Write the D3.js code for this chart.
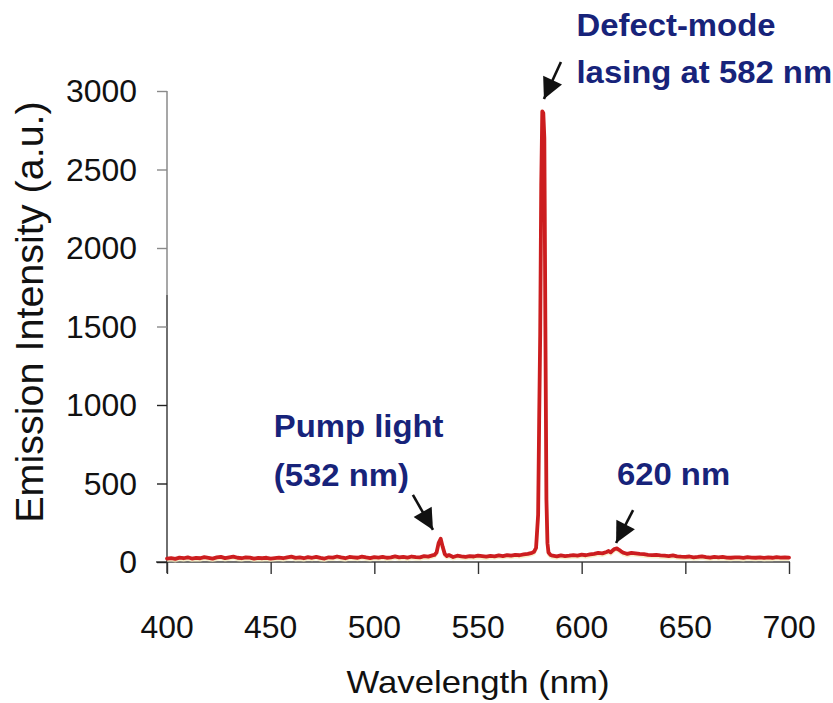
<!DOCTYPE html>
<html>
<head>
<meta charset="utf-8">
<script src="https://cdn.jsdelivr.net/npm/d3@7"></script>
<style>
  html, body { margin: 0; padding: 0; background: #fff; }
  svg { display: block; }
  text { font-family: "Liberation Sans", Arial, sans-serif; }
</style>
</head>
<body>
<svg id="chart" width="833" height="703"></svg>
<script>
// ---------------- data ----------------
const wavelength = [
  400,402,404,406,408,410,412,414,416,418,420,422,424,426,428,430,432,434,436,438,
  440,442,444,446,448,450,452,454,456,458,460,462,464,466,468,470,472,474,476,478,
  480,482,484,486,488,490,492,494,496,498,500,502,504,506,508,510,512,514,516,518,
  520,522,524,526,528,529,530,531,532,533,534,535,536,538,540,542,544,546,548,550,
  552,554,556,558,560,562,564,566,568,570,572,574,576,577,578,579,579.5,580,580.5,581,
  581.5,582,582.5,583,583.5,584,585,586,588,590,592,594,596,598,600,602,604,606,608,610,
  612,613,614,615,616,617,618,619,620,621,622,624,626,628,630,632,634,636,638,640,
  642,644,646,648,650,652,654,656,658,660,662,664,666,668,670,672,674,676,678,680,
  682,684,686,688,690,692,694,696,698,700
];
const intensity = [
  22,25,20,28,24,30,22,26,24,31,27,22,29,33,25,30,34,27,24,30,
  28,22,26,24,27,22,25,28,24,30,34,26,29,24,31,27,33,26,22,30,
  28,35,29,24,32,30,27,34,29,25,31,28,33,27,30,36,29,33,28,35,
  31,30,37,34,42,45,60,120,148,95,50,38,44,32,40,36,33,38,35,40,
  37,34,39,36,42,38,44,40,46,43,48,52,58,65,90,300,900,1450,2400,2870,
  2860,2700,1500,400,120,60,45,40,36,42,38,40,44,41,47,43,48,52,58,55,
  64,70,62,74,84,86,78,68,60,56,52,58,55,52,50,46,44,45,42,40,
  38,42,36,34,33,35,30,32,36,31,28,33,30,32,28,27,30,29,26,31,
  28,27,30,26,29,27,31,28,30,28
];
const xTicks = [400, 450, 500, 550, 600, 650, 700];
const yTicks = [0, 500, 1000, 1500, 2000, 2500, 3000];
const xTitle = "Wavelength (nm)";
const yTitle = "Emission Intensity (a.u.)";

// annotations in data units
const annoLines = [
  { text: "Pump light", x: 451.5, y: 798 },
  { text: "(532 nm)",   x: 451.5, y: 484 },
  { text: "Defect-mode", x: 597.5, y: 3350 },
  { text: "lasing at 582 nm", x: 597.5, y: 3050 },
  { text: "620 nm", x: 617, y: 490 }
];
const arrows = [
  { x1: 518.6, y1: 427, x2: 528.3, y2: 204 },
  { x1: 590.0, y1: 3185, x2: 581.8, y2: 2949 },
  { x1: 624.8, y1: 331, x2: 616.6, y2: 121 }
];

// ---------------- chart ----------------
const svg = d3.select("#chart");
const x = d3.scaleLinear().domain([400, 700]).range([167, 789]);
const y = d3.scaleLinear().domain([0, 3000]).range([562, 91]);
const navy = "#17237a";

// axes lines
const axisG = svg.append("g");
axisG.append("line").attr("x1", 156).attr("x2", x(700) + 1)
  .attr("y1", y(0)).attr("y2", y(0)).attr("stroke", "#444").attr("stroke-width", 1.3);
axisG.append("line").attr("x1", x(400)).attr("x2", x(400))
  .attr("y1", y(3000)).attr("y2", y(1700)).attr("stroke", "#8a8a8a").attr("stroke-width", 1.5);
axisG.append("line").attr("x1", x(400)).attr("x2", x(400))
  .attr("y1", y(1700)).attr("y2", y(0) + 11).attr("stroke", "#222").attr("stroke-width", 1.3);

// y ticks via d3 axis
const yAxis = svg.append("g").attr("transform", `translate(${x(400)},0)`)
  .call(d3.axisLeft(y).tickValues(yTicks).tickSize(10).tickSizeOuter(0).tickFormat(""));
yAxis.select(".domain").remove();
yAxis.selectAll(".tick line")
  .attr("stroke", d => d >= 1500 ? "#8a8a8a" : "#222").attr("stroke-width", 1.4);

// x ticks via d3 axis
const xAxis = svg.append("g").attr("transform", `translate(0,${y(0)})`)
  .call(d3.axisBottom(x).tickValues(xTicks).tickSize(12).tickSizeOuter(0).tickFormat(""));
xAxis.select(".domain").remove();
xAxis.selectAll(".tick line").attr("stroke", "#333").attr("stroke-width", 1.4);

// tick labels
svg.append("g").selectAll("text").data(yTicks).join("text")
  .attr("transform", d => `translate(137,${y(d) + 11}) scale(1.03,1)`)
  .attr("text-anchor", "end").attr("font-size", 31).attr("fill", "#111")
  .text(d => d);
svg.append("g").selectAll("text").data(xTicks).join("text")
  .attr("transform", d => `translate(${x(d)},${638}) scale(1.03,1)`)
  .attr("text-anchor", "middle").attr("font-size", 31).attr("fill", "#111")
  .text(d => d);

// titles
svg.append("text")
  .attr("transform", `translate(478,693) scale(1.12,1)`)
  .attr("text-anchor", "middle").attr("font-size", 31).attr("fill", "#111")
  .text(xTitle);
svg.append("text")
  .attr("transform", `translate(43,312) rotate(-90)`)
  .attr("text-anchor", "middle").attr("font-size", 39.5).attr("fill", "#111")
  .text(yTitle);

// data line
const pts = wavelength.map((w, i) => [w, intensity[i]]);
const line = d3.line().x(d => x(d[0])).y(d => y(d[1]));
svg.append("path").datum(pts)
  .attr("d", line).attr("fill", "none")
  .attr("stroke", "#f3e9b8").attr("stroke-width", 3).attr("opacity", 0.7)
  .attr("transform", "translate(0,2)");
svg.append("path").datum(pts)
  .attr("d", line).attr("fill", "none")
  .attr("stroke", "#cc1d1f").attr("stroke-width", 3.8)
  .attr("stroke-linejoin", "round").attr("stroke-linecap", "round");

// arrows
svg.append("defs").append("marker")
  .attr("id", "ah").attr("viewBox", "0 0 10 10").attr("refX", 10).attr("refY", 5)
  .attr("markerWidth", 8.5).attr("markerHeight", 8).attr("markerUnits", "strokeWidth")
  .attr("orient", "auto")
  .append("path").attr("d", "M0,0 L10,5 L0,10 Z").attr("fill", "#111");
svg.append("g").selectAll("line").data(arrows).join("line")
  .attr("x1", d => x(d.x1)).attr("y1", d => y(d.y1))
  .attr("x2", d => x(d.x2)).attr("y2", d => y(d.y2))
  .attr("stroke", "#111").attr("stroke-width", 2.6).attr("marker-end", "url(#ah)");

// annotation texts
svg.append("g").selectAll("text").data(annoLines).join("text")
  .attr("transform", d => `translate(${x(d.x)},${y(d.y)}) scale(1.06,1)`)
  .attr("font-size", 31).attr("font-weight", "bold").attr("fill", navy)
  .text(d => d.text);
</script>
</body>
</html>
